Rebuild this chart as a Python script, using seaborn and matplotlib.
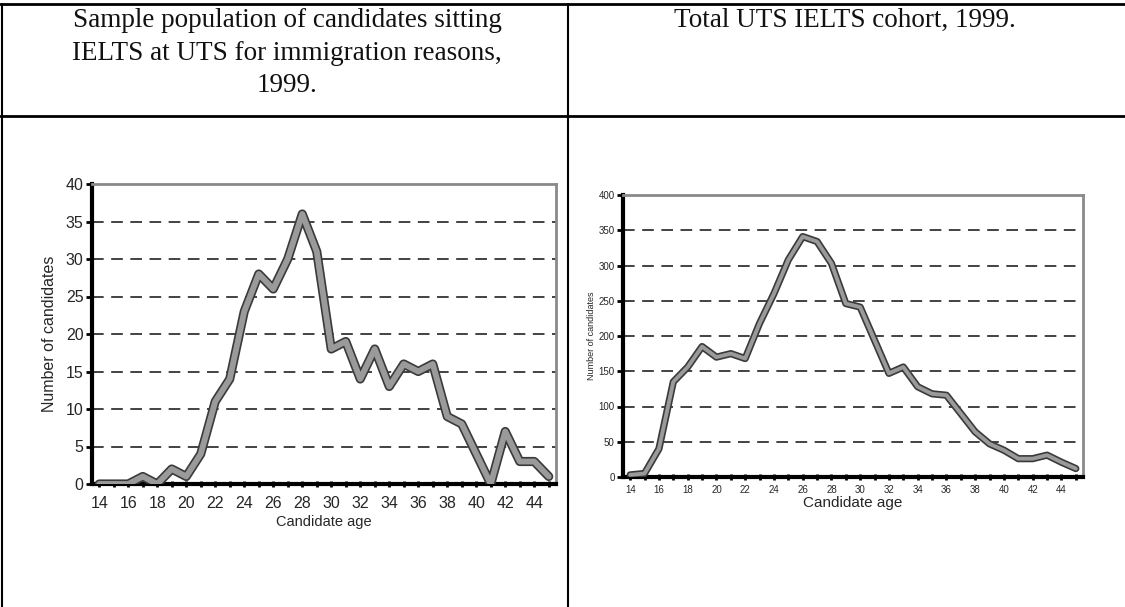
import numpy as np
import pandas as pd
import matplotlib
matplotlib.use('Agg')
import matplotlib.pyplot as plt
import seaborn as sns
from matplotlib.lines import Line2D

# data
ages = list(range(14, 46))
sample_counts = [0, 0, 0, 1, 0, 2, 1, 4, 11, 14, 23, 28, 26, 30, 36, 31,
                 18, 19, 14, 18, 13, 16, 15, 16, 9, 8, 4, 0, 7, 3, 3, 1]
cohort_counts = [3, 5, 40, 135, 156, 185, 170, 175, 168, 218, 260, 308, 341, 334, 303, 246,
                 241, 194, 147, 156, 128, 118, 116, 90, 64, 47, 38, 26, 26, 31, 21, 12]
left_title = "Sample population of candidates sitting\nIELTS at UTS for immigration reasons,\n1999."
right_title = "Total UTS IELTS cohort, 1999."
x_label = "Candidate age"
y_label = "Number of candidates"

sample = pd.DataFrame({'age': ages, 'count': sample_counts})
cohort = pd.DataFrame({'age': ages, 'count': cohort_counts})

sns.set_theme(style='white')
plt.rcParams['font.family'] = ['Liberation Sans', 'DejaVu Sans']

W, H = 1125, 607
fig = plt.figure(figsize=(W / 100, H / 100), dpi=100)
fig.patch.set_facecolor('white')

# table frame of the scanned page
for (x0, y0, x1, y1, lw) in [(0, 4, W, 4, 2.0), (0, 116, W, 116, 2.0),
                             (2, 4, 2, H, 1.5), (568, 4, 568, H, 1.5)]:
    fig.add_artist(Line2D([x0 / W, x1 / W], [1 - y0 / H, 1 - y1 / H], color='black', lw=lw))

serif = ['Liberation Serif', 'DejaVu Serif']
fig.text(287 / W, 1 - 53 / H, left_title, ha='center', va='center', family=serif,
         fontsize=19.5, linespacing=1.42, color='#111111')
fig.text(845 / W, 1 - 20 / H, right_title, ha='center', va='center', family=serif,
         fontsize=19.5, color='#111111')


def draw(ax, df, ymax, step, lw, tick_fs, lab_fs, ylab_fs, xpad, lpad, ylpad):
    sns.lineplot(data=df, x='age', y='count', ax=ax, color='#3a3a3a', linewidth=lw + 1.6,
                 solid_joinstyle='round', solid_capstyle='round', zorder=3)
    sns.lineplot(data=df, x='age', y='count', ax=ax, color='#9a9a9a', linewidth=lw - 0.8,
                 solid_joinstyle='round', solid_capstyle='round', zorder=4)
    ax.set_xlim(13.5, 45.5)
    ax.set_ylim(0, ymax)
    yt = np.arange(0, ymax + 1, step)
    ax.set_yticks(yt)
    ax.set_yticklabels([str(int(v)) for v in yt], fontsize=tick_fs)
    ax.set_xticks(ages)
    ax.set_xticklabels([str(a) if a % 2 == 0 else '' for a in ages], fontsize=tick_fs)
    for v in yt[1:-1]:
        ax.axhline(v, color='#222222', lw=1.2, linestyle=(0, (7, 4.5)), zorder=1)
    ax.set_xlabel(x_label, fontsize=lab_fs, labelpad=lpad)
    ax.set_ylabel(y_label, fontsize=ylab_fs, labelpad=ylpad)
    for s in ['left', 'bottom']:
        ax.spines[s].set_color('black')
        ax.spines[s].set_linewidth(3)
    for s in ['top', 'right']:
        ax.spines[s].set_color('#8a8a8a')
        ax.spines[s].set_linewidth(2)
    ax.tick_params(axis='y', direction='out', length=4, width=2, color='black', pad=2, left=True)
    ax.tick_params(axis='x', direction='inout', length=5, width=2, color='black', pad=xpad, bottom=True)
    ax.set_facecolor('white')


ax1 = fig.add_axes([92 / W, 1 - 484 / H, 464 / W, 300 / H])
draw(ax1, sample, 40, 5, 5.0, 11.5, 10.5, 11.5, 6, 3, 6)

ax2 = fig.add_axes([623 / W, 1 - 477 / H, 460 / W, 282 / H])
draw(ax2, cohort, 400, 50, 3.6, 7, 11, 6.5, 3, 1, 2)

fig.savefig('out.png', dpi=100)
